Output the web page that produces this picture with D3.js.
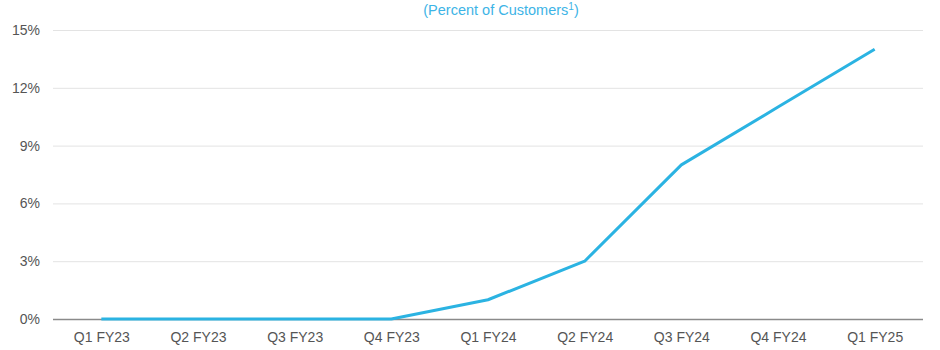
<!DOCTYPE html>
<html>
<head>
<meta charset="utf-8">
<script src="https://cdn.jsdelivr.net/npm/d3@7"></script>
<style>
  html, body { margin: 0; padding: 0; background: #ffffff; }
  svg { display: block; font-family: "Liberation Sans", Arial, sans-serif; }
</style>
</head>
<body>
<svg id="chart" width="940" height="350"></svg>
<script>
// Quarterly share of customers, in percent
const quarters = ["Q1 FY23", "Q2 FY23", "Q3 FY23", "Q4 FY23", "Q1 FY24", "Q2 FY24", "Q3 FY24", "Q4 FY24", "Q1 FY25"];
const customerPct = [0, 0, 0, 0, 1, 3, 8, 11, 14];
const yTicks = [0, 3, 6, 9, 12, 15];

const svg = d3.select("#chart");
const margin = { left: 53, right: 17, top: 30, bottom: 31 };
const width = 940, height = 350;

const x = d3.scalePoint()
  .domain(quarters)
  .range([margin.left, width - margin.right])
  .padding(0.5);

const y = d3.scaleLinear()
  .domain([0, 15])
  .range([height - margin.bottom, margin.top]);

// Subtitle with superscript footnote marker
const sub = svg.append("text")
  .attr("x", 501)
  .attr("y", 15)
  .attr("text-anchor", "middle")
  .attr("fill", "#3db4e6")
  .style("font-size", "14.5px");
sub.append("tspan").text("(Percent of Customers");
sub.append("tspan").attr("dy", -5).style("font-size", "10px").text("1");
sub.append("tspan").attr("dy", 5).text(")");

// Horizontal gridlines and y labels
const yAxis = d3.axisLeft(y)
  .tickValues(yTicks)
  .tickSize(-(width - margin.left - margin.right))
  .tickPadding(13)
  .tickFormat(d => d + "%");

const gy = svg.append("g")
  .attr("transform", `translate(${margin.left},0)`)
  .call(yAxis);
gy.select(".domain").remove();
gy.selectAll(".tick line")
  .attr("stroke", d => d === 0 ? "#8a8a8a" : "#e3e3e3")
  .attr("stroke-width", d => d === 0 ? 1.6 : 1);
gy.selectAll(".tick text")
  .attr("fill", "#555555")
  .style("font-size", "14px");

// Category labels
const xAxis = d3.axisBottom(x).tickSize(0).tickPadding(13);
const gx = svg.append("g")
  .attr("transform", `translate(0,${height - margin.bottom})`)
  .call(xAxis);
gx.select(".domain").remove();
gx.selectAll(".tick text")
  .attr("fill", "#555555")
  .style("font-size", "14px");

// Series line
const line = d3.line()
  .x((d, i) => x(quarters[i]))
  .y(d => y(d));

svg.append("path")
  .datum(customerPct)
  .attr("fill", "none")
  .attr("stroke", "#2bb3e2")
  .attr("stroke-width", 3)
  .attr("stroke-linejoin", "round")
  .attr("d", line);
</script>
</body>
</html>
